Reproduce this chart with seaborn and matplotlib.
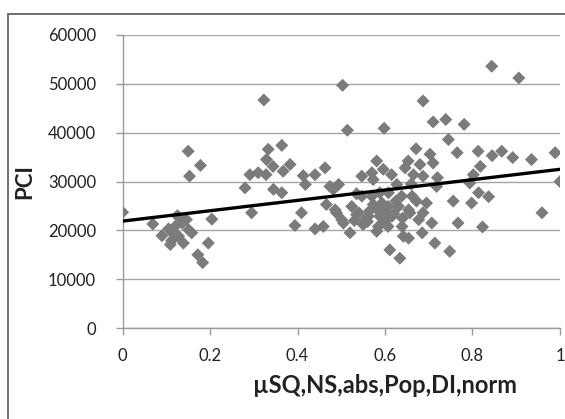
import matplotlib
matplotlib.use("Agg")
import matplotlib.pyplot as plt
import seaborn as sns
import pandas as pd
from matplotlib.lines import Line2D

# ---- data ----
x_vals = [0.0, 0.069, 0.09, 0.105, 0.109, 0.112, 0.113, 0.12, 0.125, 0.128, 0.13, 0.136, 0.139,
          0.146, 0.151, 0.158, 0.15, 0.153, 0.178, 0.172, 0.183, 0.196, 0.204,
          0.28, 0.291, 0.295, 0.31, 0.323, 0.328, 0.329, 0.333, 0.344, 0.345, 0.364, 0.364,
          0.367, 0.383, 0.394, 0.409, 0.413, 0.418, 0.44, 0.44, 0.459, 0.463, 0.466, 0.474,
          0.482, 0.486, 0.489, 0.494, 0.501, 0.503, 0.505, 0.514, 0.52, 0.524, 0.535, 0.535,
          0.54, 0.547, 0.547, 0.55, 0.555, 0.562, 0.565, 0.57, 0.57, 0.573, 0.573, 0.581, 0.581,
          0.585, 0.588, 0.588, 0.593, 0.596, 0.598, 0.6, 0.607, 0.607, 0.608, 0.611, 0.615,
          0.616, 0.625, 0.627, 0.631, 0.634, 0.638, 0.639, 0.642, 0.646, 0.653, 0.654, 0.654,
          0.657, 0.66, 0.662, 0.665, 0.671, 0.672, 0.677, 0.68, 0.685, 0.687, 0.687, 0.687,
          0.695, 0.703, 0.707, 0.71, 0.71, 0.714, 0.718, 0.72, 0.739, 0.745, 0.748, 0.756,
          0.765, 0.767, 0.781, 0.794, 0.798, 0.802, 0.813, 0.814, 0.818, 0.823, 0.837, 0.844,
          0.845, 0.867, 0.892, 0.906, 0.935, 0.959, 0.989, 1.0,
          0.56, 0.6, 0.62, 0.64, 0.58, 0.53]
y_vals = [23700, 21300, 18900, 20300, 17100, 17900, 19500, 20800, 23000, 18800, 22600, 21500, 17400,
          22200, 20100, 19500, 36200, 31100, 33300, 15000, 13400, 17400, 22300,
          28700, 31400, 23600, 31800, 46700, 31400, 34500, 36600, 33100, 28400, 37400, 27700,
          32100, 33500, 21000, 23600, 31200, 29400, 31400, 20300, 20800, 32800, 25300, 29000,
          28400, 24200, 23600, 29400, 22200, 49700, 21500, 40500, 19500, 24900, 23200, 27500,
          23600, 27000, 31100, 21200, 22200, 22900, 24000, 27000, 31800, 30400, 25300, 34200, 19800,
          20800, 27700, 22900, 25600, 32500, 40900, 23800, 24900, 20800, 27700, 16000, 31400,
          22900, 26000, 29400, 24900, 14300, 27000, 20800, 18800, 32800, 34200, 24200, 18400,
          23600, 29500, 27000, 31400, 36700, 26000, 22200, 33500, 19500, 46500, 31100, 23600,
          25600, 35600, 21500, 42200, 33800, 17400, 29000, 30800, 42700, 38600, 15700, 26000,
          35900, 21500, 41700, 29700, 25600, 31400, 36200, 27700, 33100, 20700, 26900, 53600,
          35300, 36200, 34900, 51200, 34500, 23600, 35900, 30000,
          21800, 21900, 23400, 22500, 24500, 22000]

trend_x = [0.0, 1.0]
trend_y = [21900, 32500]

x_ticks = [0, 0.2, 0.4, 0.6, 0.8, 1]
x_tick_labels = ["0", "0.2", "0.4", "0.6", "0.8", "1"]
y_ticks = [0, 10000, 20000, 30000, 40000, 50000, 60000]
y_tick_labels = ["0", "10000", "20000", "30000", "40000", "50000", "60000"]

x_label = "µSQ,NS,abs,Pop,DI,norm"
y_label = "PCI"

# ---- plot ----
sns.set_theme(style="white")
plt.rcParams["font.family"] = ["Lato", "DejaVu Sans"]

fig = plt.figure(figsize=(5.65, 4.19), dpi=100)
ax = fig.add_axes([0.217, 0.217, 0.774, 0.6995])

df = pd.DataFrame({"x": x_vals, "y": y_vals})
sns.scatterplot(data=df, x="x", y="y", ax=ax, marker="D", s=44,
                color="#7b7b7b", edgecolor="none", linewidth=0, zorder=3)
tdf = pd.DataFrame({"x": trend_x, "y": trend_y})
sns.lineplot(data=tdf, x="x", y="y", ax=ax, color="black", linewidth=2.4, zorder=4)

ax.set_xlim(0, 1)
ax.set_ylim(0, 60000)
ax.set_xticks(x_ticks)
ax.set_xticklabels(x_tick_labels)
ax.set_yticks(y_ticks)
ax.set_yticklabels(y_tick_labels)

ax.grid(axis="y", color="#a6a6a6", linewidth=1.0)
ax.grid(axis="x", visible=False)
ax.set_axisbelow(True)

for s in ["top", "right"]:
    ax.spines[s].set_visible(False)
for s in ["left", "bottom"]:
    ax.spines[s].set_color("#9a9a9a")
    ax.spines[s].set_linewidth(1.0)

ax.tick_params(axis="both", direction="out", length=5, width=1.0, color="#9a9a9a",
               labelsize=12, labelcolor="#222222")
ax.tick_params(axis="x", bottom=True, pad=9)
ax.tick_params(axis="y", left=True, pad=14)

ax.set_xlabel(x_label, fontsize=17, fontweight="bold", color="#222222")
ax.set_ylabel(y_label, fontsize=16, fontweight="bold", color="#222222")
ax.xaxis.set_label_coords(0.6, -0.158)
ax.yaxis.set_label_coords(-0.2, 0.5)

# outer chart border (partially cropped, like the reference)
W, H = 565, 419
fig.add_artist(Line2D([8 / W, 1.0], [1 - 14 / H, 1 - 14 / H], color="#666666", linewidth=1.3,
                      transform=fig.transFigure))
fig.add_artist(Line2D([8 / W, 8 / W], [0.0, 1 - 14 / H], color="#666666", linewidth=1.3,
                      transform=fig.transFigure))

fig.savefig("out.png", dpi=100)
